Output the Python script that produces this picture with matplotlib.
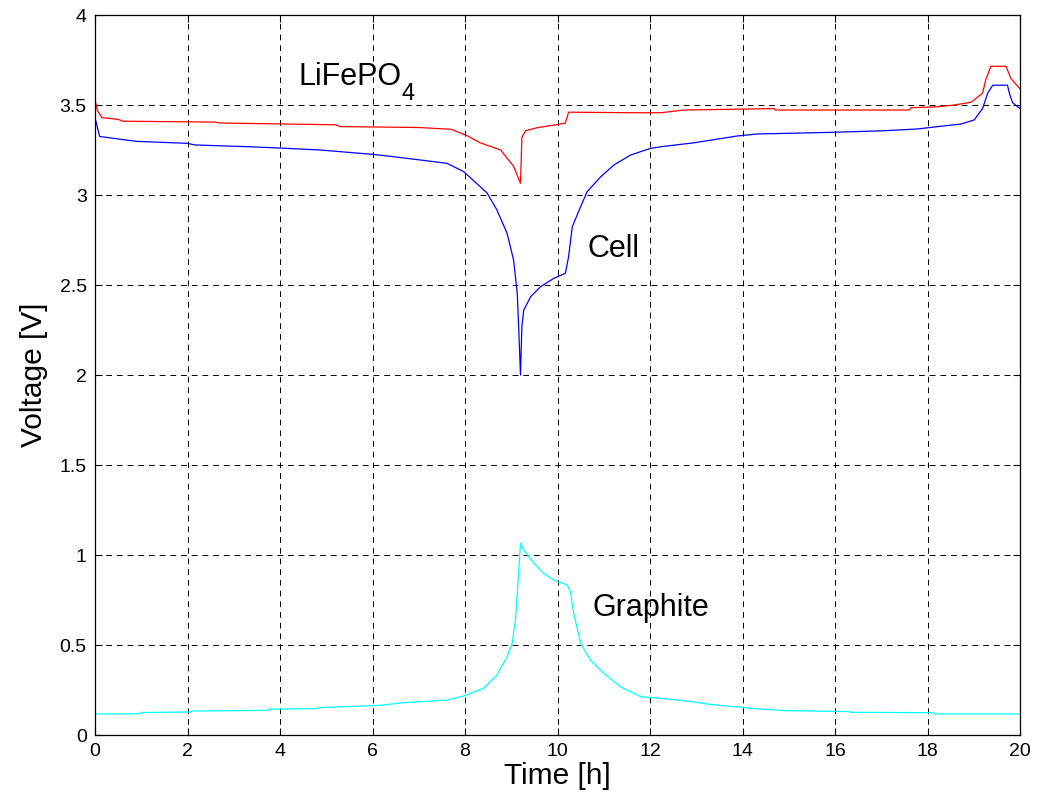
import matplotlib
matplotlib.use("Agg")
import matplotlib.pyplot as plt
from matplotlib.transforms import offset_copy

plt.rcParams['font.family'] = ['Liberation Sans', 'DejaVu Sans']

# Half-cell and full-cell voltages over a discharge/charge cycle
cathode_t = [0, 0.05, 0.15, 0.5, 0.6, 2.6, 2.7, 5.2, 5.3, 7.0, 7.7, 8.04, 8.33, 8.77,
             9.05, 9.2, 9.23, 9.31, 9.56, 9.96, 10.17, 10.24, 11.72, 12.23, 12.73,
             14.68, 14.72, 17.6, 17.65, 18.2, 18.58, 18.94, 19.19, 19.26, 19.37,
             19.7, 19.8, 20.0]
cathode_v = [3.53, 3.47, 3.43, 3.42, 3.41, 3.405, 3.40, 3.39, 3.38, 3.375, 3.365, 3.33,
             3.29, 3.25, 3.16, 3.065, 3.32, 3.357, 3.374, 3.39, 3.40, 3.46, 3.457,
             3.457, 3.472, 3.48, 3.472, 3.472, 3.485, 3.49, 3.50, 3.515, 3.565, 3.64,
             3.715, 3.715, 3.648, 3.59]

cell_t = [0, 0.1, 0.54, 0.9, 2.0, 2.16, 3.35, 4.15, 4.87, 5.99, 6.45, 7.61, 7.97, 8.33,
          8.48, 8.69, 8.91, 9.05, 9.13, 9.16, 9.2, 9.23, 9.27, 9.42, 9.63, 9.92, 10.17,
          10.24, 10.32, 10.5, 10.64, 10.93, 11.22, 11.58, 12.01, 12.23, 12.95, 13.89,
          14.32, 15.9, 17.06, 17.79, 18.22, 18.72, 19.01, 19.19, 19.3, 19.41, 19.73,
          19.77, 19.84, 20.0]
cell_v = [3.43, 3.325, 3.31, 3.298, 3.287, 3.278, 3.268, 3.259, 3.25, 3.226, 3.213,
          3.176, 3.13, 3.046, 3.01, 2.917, 2.787, 2.64, 2.454, 2.268, 2.0, 2.27, 2.36,
          2.435, 2.49, 2.537, 2.565, 2.657, 2.824, 2.935, 3.018, 3.10, 3.167, 3.222,
          3.259, 3.268, 3.29, 3.328, 3.339, 3.348, 3.357, 3.367, 3.38, 3.394, 3.417,
          3.48, 3.565, 3.61, 3.61, 3.565, 3.513, 3.48]

anode_t = [0, 0.97, 1.0, 2.06, 2.1, 3.72, 3.75, 4.8, 4.85, 6.17, 6.67, 7.03, 7.61, 7.97,
           8.4, 8.69, 8.91, 9.02, 9.09, 9.14, 9.2, 9.27, 9.49, 9.7, 9.92, 10.21, 10.28,
           10.35, 10.5, 10.71, 11.0, 11.36, 11.8, 12.45, 12.9, 13.27, 13.64, 13.96,
           14.39, 14.97, 16.3, 16.35, 18.1, 18.15, 20.0]
anode_v = [0.117, 0.118, 0.125, 0.128, 0.133, 0.137, 0.143, 0.147, 0.152, 0.165, 0.18,
           0.185, 0.194, 0.217, 0.259, 0.333, 0.435, 0.509, 0.639, 0.824, 1.065, 1.028,
           0.954, 0.898, 0.861, 0.833, 0.796, 0.676, 0.509, 0.417, 0.343, 0.268, 0.213,
           0.198, 0.185, 0.171, 0.161, 0.154, 0.144, 0.135, 0.13, 0.126, 0.124, 0.117,
           0.117]

x_ticks = [0, 2, 4, 6, 8, 10, 12, 14, 16, 18, 20]
y_ticks = [0, 0.5, 1, 1.5, 2, 2.5, 3, 3.5, 4]
y_tick_labels = ['0', '0.5', '1', '1.5', '2', '2.5', '3', '3.5', '4']

fig = plt.figure(figsize=(10.45, 8.02), dpi=100)
ax = fig.add_axes([95 / 1045, 67 / 802, 925 / 1045, 720 / 802])

ax.plot(cathode_t, cathode_v, color='#FF0000', lw=0.9)
ax.plot(cell_t, cell_v, color='#0000FF', lw=0.9)
ax.plot(anode_t, anode_v, color='#00FFFF', lw=0.9)

ax.set_xlim(0, 20)
ax.set_ylim(0, 4)
ax.set_xticks(x_ticks)
ax.set_xticklabels([str(v) for v in x_ticks])
ax.set_yticks(y_ticks)
ax.set_yticklabels(y_tick_labels)

ax.grid(True, color='black', linestyle=(0, (6, 5)), linewidth=0.7)
ax.tick_params(direction='in', top=True, right=True, length=5, width=0.8,
               labelsize=14, pad=6)
for s in ax.spines.values():
    s.set_linewidth(0.9)

ax.set_xlabel('Time [h]', fontsize=21.5, labelpad=1)
ax.set_ylabel('Voltage [V]', fontsize=21.5, labelpad=8)

# Compound label with a large, lowered subscript
main = ax.text(4.39, 3.61, 'LiFePO', fontsize=22, ha='left', va='baseline')
fig.canvas.draw()
bb = main.get_window_extent(renderer=fig.canvas.get_renderer())
x_end = ax.transData.inverted().transform((bb.x1, bb.y0))[0]
sub_tr = offset_copy(ax.transData, fig=fig, x=0.5, y=-11, units='points')
ax.text(x_end, 3.61, '4', fontsize=17, ha='left', va='baseline', transform=sub_tr)

ax.text(10.64, 2.655, 'Cell', fontsize=22, ha='left', va='baseline')
ax.text(10.76, 0.661, 'Graphite', fontsize=22, ha='left', va='baseline')

fig.savefig('out.png', dpi=100)
